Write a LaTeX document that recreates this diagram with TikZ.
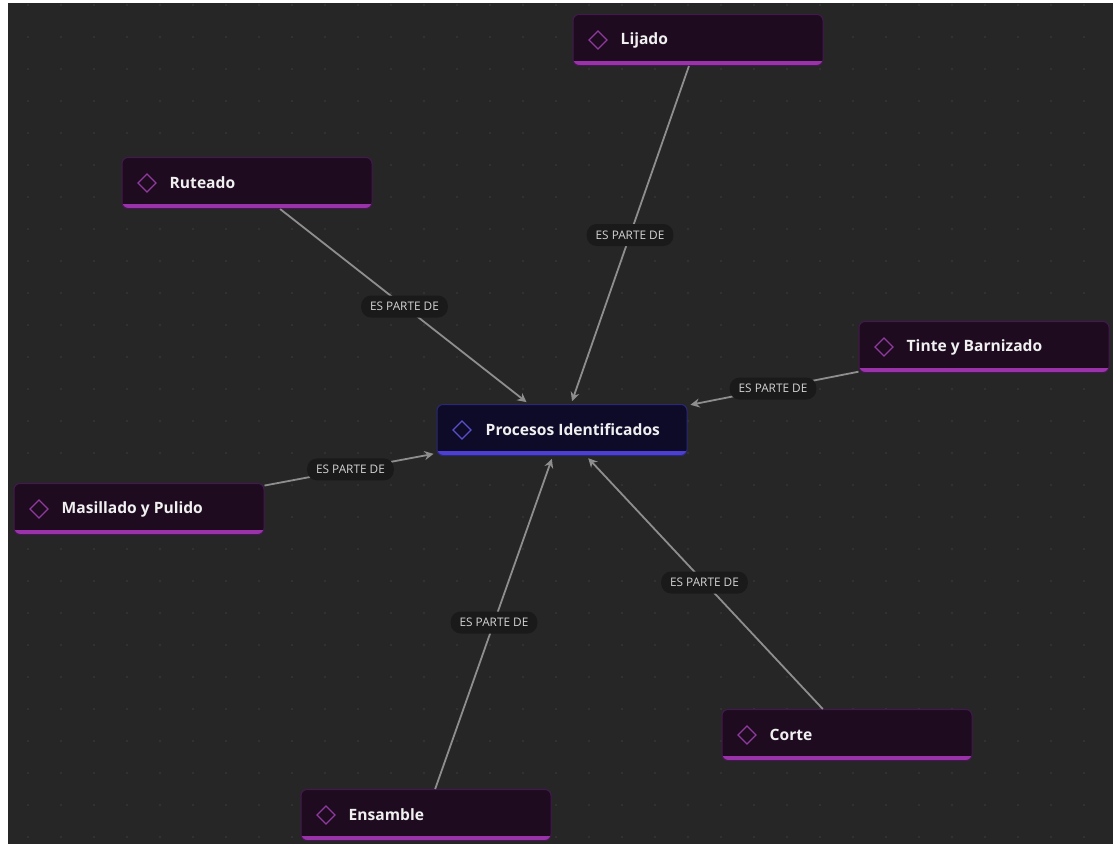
\documentclass[tikz,border=0pt]{standalone}
\usepackage{fontspec}
\setmainfont{Open Sans}
\usetikzlibrary{arrows.meta}

\definecolor{canvas}{HTML}{262626}
\definecolor{griddot}{HTML}{353535}
\definecolor{procfill}{HTML}{1E0B1F}
\definecolor{procline}{HTML}{451850}
\definecolor{procbar}{HTML}{9A32AA}
\definecolor{procicon}{HTML}{8E3A9E}
\definecolor{mainfill}{HTML}{0D0B28}
\definecolor{mainline}{HTML}{2B2878}
\definecolor{mainbar}{HTML}{4C3FD2}
\definecolor{mainicon}{HTML}{5B50CC}
\definecolor{relline}{HTML}{8E8E8E}
\definecolor{pillfill}{HTML}{1A1A1A}
\definecolor{pilltext}{HTML}{D4D4D4}

\tikzset{
	proc/.style={draw=procline, line width=1pt, fill=procfill, rounded corners=6pt,
		minimum width=250pt, minimum height=51pt, inner sep=0pt,
		path picture={
			\fill[procbar, sharp corners] (path picture bounding box.south west) rectangle ([yshift=4.5pt]path picture bounding box.south east);
			\draw[procicon, line width=1.3pt, sharp corners] ([xshift=25pt]path picture bounding box.west)
				+(-9pt,0) -- +(0,9pt) -- +(9pt,0) -- +(0,-9pt) -- cycle;
		}},
	mainproc/.style={proc, draw=mainline, fill=mainfill,
		path picture={
			\fill[mainbar, sharp corners] (path picture bounding box.south west) rectangle ([yshift=4.5pt]path picture bounding box.south east);
			\draw[mainicon, line width=1.3pt, sharp corners] ([xshift=25pt]path picture bounding box.west)
				+(-9pt,0) -- +(0,9pt) -- +(9pt,0) -- +(0,-9pt) -- cycle;
		}},
	proctext/.style={anchor=west, text=white!94!black, font=\fontsize{15.6}{18}\selectfont\bfseries, inner sep=0pt},
	rel/.style={draw=relline, line width=1.8pt, -{Stealth[length=9pt,width=9pt]}, shorten >=3pt},
	pill/.style={fill=pillfill, rounded corners=10pt, text=pilltext, font=\fontsize{11.8}{14}\selectfont,
		minimum height=22pt, inner xsep=9pt, inner ysep=2pt}
}

\begin{document}
\begin{tikzpicture}[x=1pt, y=-1pt]
	\useasboundingbox (0,0) rectangle (1113,844);
	\fill[white] (0,0) rectangle (1113,844);
	\fill[canvas] (8,3) rectangle (1113,844);
	\foreach \x in {28,61,...,1113}
		\foreach \y in {5,37,...,844}
			\fill[griddot] (\x,\y) circle (1.1pt);
	
	\node[mainproc] (procesos) at (562, 430) {};
	\node[proc] (lijado) at (698, 40) {};
	\node[proc] (ruteado) at (247, 183) {};
	\node[proc] (tinte) at (984, 347) {};
	\node[proc] (masillado) at (139, 509) {};
	\node[proc] (corte) at (847, 735) {};
	\node[proc] (ensamble) at (426, 815) {};
	
	\node[proctext] (procesosT) at ([xshift=49pt]procesos.west) {Procesos Identificados};
	\node[proctext] (lijadoT) at ([xshift=48pt]lijado.west) {Lijado};
	\node[proctext] (ruteadoT) at ([xshift=48pt]ruteado.west) {Ruteado};
	\node[proctext] (tinteT) at ([xshift=48pt]tinte.west) {Tinte y Barnizado};
	\node[proctext] (masilladoT) at ([xshift=48pt]masillado.west) {Masillado y Pulido};
	\node[proctext] (corteT) at ([xshift=48pt]corte.west) {Corte};
	\node[proctext] (ensambleT) at ([xshift=48pt]ensamble.west) {Ensamble};
	
	\draw[rel] (lijado) -- node[pill] {ES PARTE DE} (procesos);
	\draw[rel] (ruteado) -- node[pill] {ES PARTE DE} (procesos);
	\draw[rel] (tinte) -- node[pill] {ES PARTE DE} (procesos);
	\draw[rel] (masillado) -- node[pill] {ES PARTE DE} (procesos);
	\draw[rel] (corte) -- node[pill] {ES PARTE DE} (procesos);
	\draw[rel] (ensamble) -- node[pill] {ES PARTE DE} (procesos);
\end{tikzpicture}
\end{document}
